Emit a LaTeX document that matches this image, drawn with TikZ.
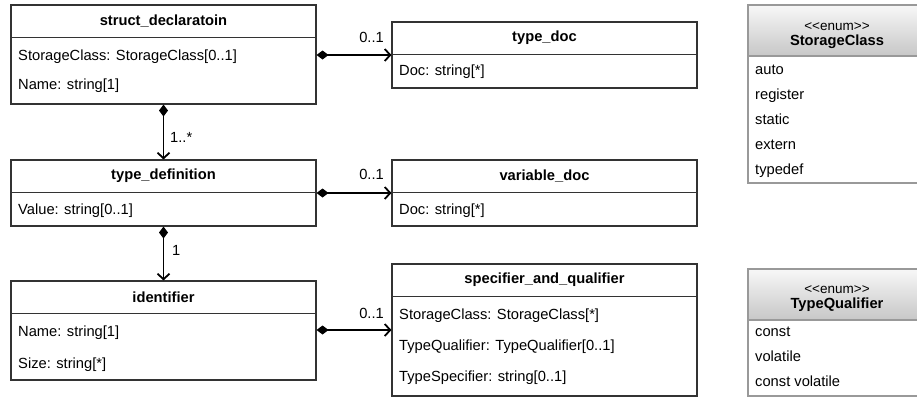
\documentclass[tikz,border=0pt]{standalone}
\usepackage{fontspec}
\setmainfont{Liberation Sans}
\usetikzlibrary{arrows.meta}

\begin{document}
\begin{tikzpicture}[x=1pt,y=-1pt,font=\fontsize{14.7}{17}\selectfont]

	\tikzstyle{class_box} = [rectangle, draw=black!80, line width=1.1pt, minimum width=305pt, inner sep=0pt]
	\tikzstyle{class_name} = [minimum width=305pt, minimum height=33pt, inner sep=0pt, font=\fontsize{14.7}{17}\selectfont\bfseries]
	\tikzstyle{class_line} = [draw=black!80, line width=1.1pt]
	\tikzstyle{attr} = [anchor=west, inner sep=0pt, text height=10.5pt, text depth=3pt]
	\tikzstyle{enum_box} = [rectangle, draw=black!40, line width=1.1pt, minimum width=178pt, inner sep=0pt]
	\tikzstyle{enum_head} = [rectangle, draw=black!40, line width=1.1pt, top color=black!3, bottom color=black!22, minimum width=178pt, minimum height=51pt, inner sep=0pt]
	\tikzstyle{enum_title} = [align=center, inner sep=0pt, font=\fontsize{14.7}{15}\selectfont]
	\tikzstyle{mult} = [inner sep=0pt, text height=10.5pt, text depth=3pt]
	\tikzstyle{comp} = [line width=1.8pt, {Diamond[length=12pt,width=9pt]}-{Straight Barb[length=5.5pt,width=12pt]}]

	\useasboundingbox (0,0) rectangle (917,397);
	\clip (0,0) rectangle (917,397);

%------------------------------------------------------------
	\node[class_box, minimum height=99pt] (sd) at (163.5,54.5) {};
	\node[class_name, anchor=north] (sd_name) at (sd.north) {struct\_declaratoin};
	\draw[class_line] (sd_name.south west) -- (sd_name.south east);
	\node[attr] (sd_a1) at (18,57) {StorageClass: StorageClass[0..1]};
	\node[attr] (sd_a2) at (18,86) {Name: string[1]};

	\node[class_box, minimum height=66pt] (tdoc) at (544.5,55) {};
	\node[class_name, anchor=north] (tdoc_name) at (tdoc.north) {type\_doc};
	\draw[class_line] (tdoc_name.south west) -- (tdoc_name.south east);
	\node[attr] (tdoc_a1) at (399,72) {Doc: string[*]};

%------------------------------------------------------------

	\node[class_box, minimum height=66pt] (tdef) at (163.5,193) {};
	\node[class_name, anchor=north] (tdef_name) at (tdef.north) {type\_definition};
	\draw[class_line] (tdef_name.south west) -- (tdef_name.south east);
	\node[attr] (tdef_a1) at (18,211) {Value: string[0..1]};

	\node[class_box, minimum height=66pt] (vdoc) at (544.5,193) {};
	\node[class_name, anchor=north] (vdoc_name) at (vdoc.north) {variable\_doc};
	\draw[class_line] (vdoc_name.south west) -- (vdoc_name.south east);
	\node[attr] (vdoc_a1) at (399,211) {Doc: string[*]};

%------------------------------------------------------------

	\node[class_box, minimum height=99pt] (id) at (163.5,330.5) {};
	\node[class_name, anchor=north] (id_name) at (id.north) {identifier};
	\draw[class_line] (id_name.south west) -- (id_name.south east);
	\node[attr] (id_a1) at (18,333) {Name: string[1]};
	\node[attr] (id_a2) at (18,365) {Size: string[*]};

	\node[class_box, minimum height=132pt] (sq) at (544.5,330) {};
	\node[class_name, anchor=north] (sq_name) at (sq.north) {specifier\_and\_qualifier};
	\draw[class_line] (sq_name.south west) -- (sq_name.south east);
	\node[attr] (sq_a1) at (399,316) {StorageClass: StorageClass[*]};
	\node[attr] (sq_a2) at (399,347) {TypeQualifier: TypeQualifier[0..1]};
	\node[attr] (sq_a3) at (399,378) {TypeSpecifier: string[0..1]};

%------------------------------------------------------------

	\node[enum_box, minimum height=178pt] (sc) at (837,94) {};
	\node[enum_head, anchor=north] (sc_head) at (sc.north) {};
	\node[enum_title] (sc_title) at (837,36) {{\fontsize{13.5}{15}\selectfont <{}<enum>{}>}\\\textbf{StorageClass}};
	\node[attr] (sc_v1) at (755,71) {auto};
	\node[attr] (sc_v2) at (755,96) {register};
	\node[attr] (sc_v3) at (755,121) {static};
	\node[attr] (sc_v4) at (755,146) {extern};
	\node[attr] (sc_v5) at (755,171) {typedef};

	\node[enum_box, minimum height=127pt] (tq) at (837,332.5) {};
	\node[enum_head, anchor=north] (tq_head) at (tq.north) {};
	\node[enum_title] (tq_title) at (837,299) {{\fontsize{13.5}{15}\selectfont <{}<enum>{}>}\\\textbf{TypeQualifier}};
	\node[attr] (tq_v1) at (755,333) {const};
	\node[attr] (tq_v2) at (755,358) {volatile};
	\node[attr] (tq_v3) at (755,383) {const volatile};

%------------------------------------------------------------

	\draw[comp] (sd.east |- tdoc.west) -- (tdoc.west);
	\draw[comp] (tdef.east) -- (vdoc.west);
	\draw[comp] (id.east |- sq.west) -- (sq.west);
	\draw[comp] (sd.south) -- (tdef.north);
	\draw[comp] (tdef.south) -- (id.north);

	\node[mult, anchor=east] (m_tdoc) at (384,39) {0..1};
	\node[mult, anchor=east] (m_vdoc) at (384,176) {0..1};
	\node[mult, anchor=east] (m_sq) at (384,315) {0..1};
	\node[mult, anchor=west] (m_tdef) at (170,139) {1..*};
	\node[mult, anchor=west] (m_id) at (172,252) {1};

\end{tikzpicture}
\end{document}
